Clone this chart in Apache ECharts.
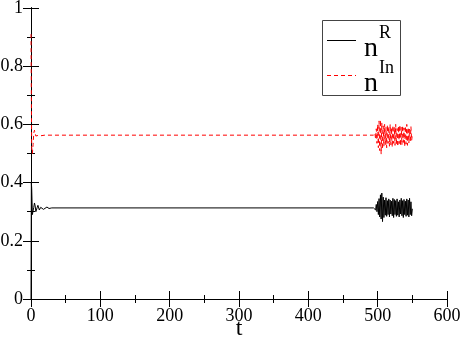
<!DOCTYPE html>
<html>
<head>
<meta charset="utf-8">
<script src="https://cdn.jsdelivr.net/npm/echarts@6/dist/echarts.min.js"></script>
<style>
  html, body { margin: 0; padding: 0; background: #fff; }
  #chart { width: 463px; height: 339px; }
</style>
</head>
<body>
<div id="chart"></div>
<script>
// time points and values
const tR = [0, 0.5, 1, 2, 3, 4, 5, 6, 7, 8, 9, 10, 11, 12, 13, 14, 16, 18, 20, 23, 26, 30, 494,
  495, 496, 497, 498, 499, 500, 501, 502, 503, 504, 505, 506, 507, 508, 509, 510, 511, 512, 513, 514,
  515, 516, 517, 518, 519, 520, 521, 522, 523, 524, 525, 526, 527, 528, 529, 530, 531, 532, 533, 534,
  535, 536, 537, 538, 539, 540, 541, 542, 543, 544, 545, 546, 547, 548, 549, 550]
const nR = [0, 0.40, 0.38, 0.29, 0.295, 0.315, 0.33, 0.32, 0.30, 0.30, 0.315, 0.322, 0.316, 0.306, 0.307, 0.315, 0.318, 0.308, 0.312, 0.316, 0.311, 0.313, 0.313,
  0.313, 0.318, 0.306, 0.325, 0.300, 0.335, 0.290, 0.345, 0.282, 0.358, 0.275, 0.364, 0.266, 0.350, 0.280, 0.340, 0.288, 0.348, 0.284, 0.338,
  0.290, 0.344, 0.282, 0.340, 0.292, 0.336, 0.286, 0.346, 0.280, 0.342, 0.290, 0.338, 0.284, 0.344, 0.288, 0.334, 0.282, 0.340, 0.292, 0.346,
  0.286, 0.338, 0.280, 0.342, 0.290, 0.336, 0.284, 0.344, 0.288, 0.340, 0.282, 0.346, 0.290, 0.334, 0.286, 0.310]

const tIn = [0, 0.5, 1, 2, 3, 4, 5, 6, 7, 8, 9, 10, 12, 14, 16, 20, 494,
  495, 496, 497, 498, 499, 500, 501, 502, 503, 504, 505, 506, 507, 508, 509, 510, 511, 512, 513, 514,
  515, 516, 517, 518, 519, 520, 521, 522, 523, 524, 525, 526, 527, 528, 529, 530, 531, 532, 533, 534,
  535, 536, 537, 538, 539, 540, 541, 542, 543, 544, 545, 546, 547, 548, 549, 550]
const nIn = [0.91, 0.70, 0.52, 0.50, 0.53, 0.57, 0.58, 0.575, 0.56, 0.555, 0.558, 0.562, 0.564, 0.561, 0.563, 0.563, 0.563,
  0.563, 0.570, 0.550, 0.585, 0.535, 0.600, 0.520, 0.612, 0.510, 0.615, 0.498, 0.605, 0.515, 0.595, 0.525, 0.600, 0.530, 0.590, 0.520, 0.598,
  0.535, 0.592, 0.525, 0.600, 0.530, 0.588, 0.522, 0.596, 0.535, 0.590, 0.528, 0.600, 0.532, 0.586, 0.524, 0.594, 0.534, 0.598, 0.526, 0.590,
  0.530, 0.596, 0.538, 0.588, 0.524, 0.594, 0.532, 0.600, 0.528, 0.590, 0.536, 0.584, 0.540, 0.592, 0.545, 0.565]

const serif = "'Liberation Serif', 'Times New Roman', serif"

const chart = echarts.init(document.getElementById('chart'))

// one axis per tick size (major 8px, minor 4px), all ticks drawn inward
const makeAxis = (extra, step, len, labels) => Object.assign({
  type: 'value',
  interval: step,
  axisLine: { show: true, lineStyle: { color: '#000', width: 1 } },
  axisTick: { show: true, inside: true, length: len, lineStyle: { color: '#000', width: 1 } },
  axisLabel: labels ? { fontFamily: serif, fontSize: 18, color: '#000' } : { show: false },
  splitLine: { show: false }
}, extra)

const xRange = { min: 0, max: 600 }
const yRange = { min: 0, max: 1 }

const option = {
  animation: false,
  grid: { left: 31, right: 16, top: 8, bottom: 40, outerBoundsMode: 'none' },
  xAxis: [
    makeAxis(Object.assign({ position: 'bottom', name: 't', nameLocation: 'middle', nameGap: 18,
      nameMoveOverlap: false,
      nameTextStyle: { fontFamily: serif, fontSize: 24, color: '#000' } }, xRange), 100, 8, true),
    makeAxis(Object.assign({ position: 'bottom' }, xRange), 50, 4, false),
    makeAxis(Object.assign({ position: 'top' }, xRange), 100, 8, false),
    makeAxis(Object.assign({ position: 'top' }, xRange), 50, 4, false)
  ],
  yAxis: [
    makeAxis(Object.assign({ position: 'left' }, yRange), 0.2, 8, true),
    makeAxis(Object.assign({ position: 'left' }, yRange), 0.1, 4, false),
    makeAxis(Object.assign({ position: 'right' }, yRange), 0.2, 8, false),
    makeAxis(Object.assign({ position: 'right' }, yRange), 0.1, 4, false)
  ],
  series: [
    {
      name: 'nR', type: 'line', showSymbol: false,
      data: tR.map((t, i) => [t, nR[i]]),
      lineStyle: { color: '#000', width: 1 }
    },
    {
      name: 'nIn', type: 'line', showSymbol: false,
      data: tIn.map((t, i) => [t, nIn[i]]),
      lineStyle: { color: '#ff0000', width: 1, type: [4, 3] }
    }
  ],
  graphic: [
    { type: 'rect', shape: { x: 322.5, y: 20.5, width: 78, height: 75 }, style: { fill: '#fff', stroke: '#444', lineWidth: 1 }, z: 10 },
    { type: 'line', shape: { x1: 327, y1: 40.5, x2: 356, y2: 40.5 }, style: { stroke: '#000', lineWidth: 1 }, z: 11 },
    { type: 'line', shape: { x1: 327, y1: 75.5, x2: 356, y2: 75.5 }, style: { stroke: '#ff0000', lineWidth: 1, lineDash: [4, 3] }, z: 11 },
    { type: 'text', x: 364, y: 63, style: { text: 'n', font: '28px ' + serif, fill: '#000', textVerticalAlign: 'bottom' }, z: 11 },
    { type: 'text', x: 379, y: 42, style: { text: 'R', font: '18px ' + serif, fill: '#000', textVerticalAlign: 'bottom' }, z: 11 },
    { type: 'text', x: 364, y: 98, style: { text: 'n', font: '28px ' + serif, fill: '#000', textVerticalAlign: 'bottom' }, z: 11 },
    { type: 'text', x: 379, y: 77, style: { text: 'In', font: '18px ' + serif, fill: '#000', textVerticalAlign: 'bottom' }, z: 11 }
  ]
}

chart.setOption(option)
</script>
</body>
</html>
